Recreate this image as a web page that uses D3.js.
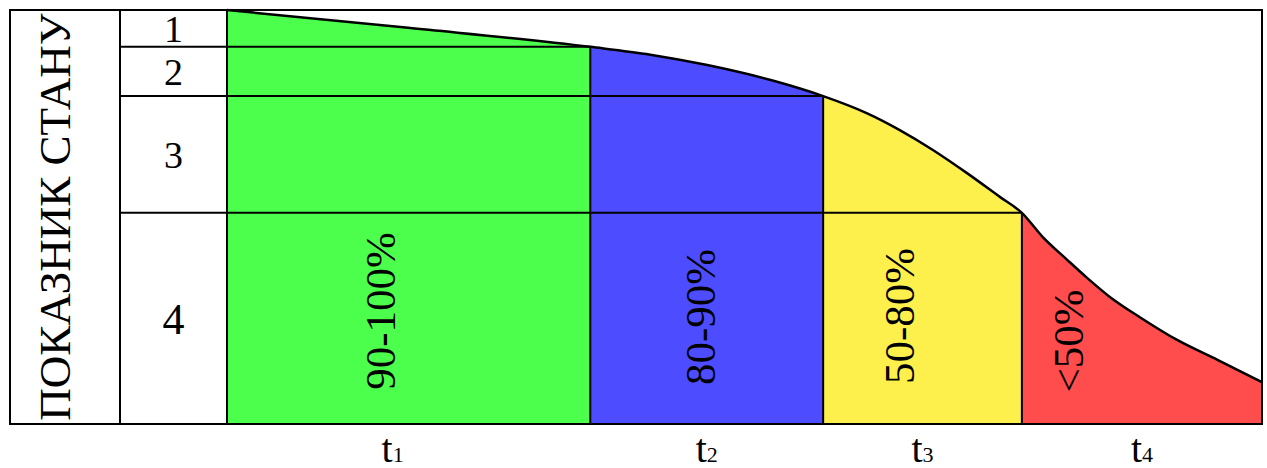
<!DOCTYPE html>
<html>
<head>
<meta charset="utf-8">
<script src="https://cdn.jsdelivr.net/npm/d3@7"></script>
<style>
  html, body { margin: 0; padding: 0; background: #fff; }
  svg text { font-family: "Liberation Serif", "Times New Roman", serif; fill: #000; }
</style>
</head>
<body>
<div id="chart"></div>
<script>
// time axis in % of lifetime, state in % of initial
var stageNames = ['1', '2', '3', '4']
var stageEnds = [0, 35.1, 57.6, 76.8, 100]
var rowBounds = [100, 91.1, 79.2, 51.0, 0]
var pctLabels = ['90-100%', '80-90%', '50-80%', '<50%']
var segColors = ['#4dff4d', '#4d4dff', '#fdf04d', '#ff4d4d']
var curveT = [0, 17.5, 35.1, 40.9, 46.4, 52.8, 57.6, 61.8, 65.0, 68.2, 71.5, 74.7, 76.8, 78.8, 81.2, 83.1, 85.3, 88.2, 91.8, 95.7, 100]
var curveV = [100, 95.7, 91.1, 89.2, 86.7, 82.9, 79.2, 75.1, 71.0, 66.2, 60.6, 54.8, 51.0, 45.2, 39.6, 35.3, 30.7, 25.8, 20.3, 15.5, 10.1]

var w = 1267, h = 468
var frameL = 10, colA = 120, colB = 227, frameR = 1262, frameT = 10, frameB = 424

var svg = d3.select('#chart').append('svg')
  .attr('width', w)
  .attr('height', h)

var x = d3.scaleLinear().domain([0, 100]).range([colB, frameR])
var y = d3.scaleLinear().domain([0, 100]).range([frameB, frameT])

var pts = curveT.map((t, i) => ({ t: t, v: curveV[i] }))

var area = d3.area()
  .x(d => x(d.t))
  .y0(y(0))
  .y1(d => y(d.v))
  .curve(d3.curveMonotoneX)

var line = d3.line()
  .x(d => x(d.t))
  .y(d => y(d.v))
  .curve(d3.curveMonotoneX)

var defs = svg.append('defs')

//coloured segments under the curve
segColors.forEach((c, i) => {
  defs.append('clipPath')
    .attr('id', 'seg-' + i)
    .append('rect')
    .attr('x', x(stageEnds[i]))
    .attr('y', frameT)
    .attr('width', x(stageEnds[i + 1]) - x(stageEnds[i]))
    .attr('height', frameB - frameT)

  svg.append('path')
    .datum(pts)
    .attr('d', area)
    .attr('fill', c)
    .attr('clip-path', 'url(#seg-' + i + ')')
})

svg.append('path')
  .datum(pts)
  .attr('d', line)
  .attr('fill', 'none')
  .attr('stroke', '#000')
  .attr('stroke-width', 2.5)

// vertical dividers between stages + row lines
stageEnds.slice(1, -1).forEach((t, i) => {
  svg.append('line')
    .attr('x1', x(t)).attr('x2', x(t))
    .attr('y1', y(rowBounds[i + 1])).attr('y2', frameB)
    .attr('stroke', '#000')
    .attr('stroke-width', 2)

  svg.append('line')
    .attr('x1', colA).attr('x2', x(t))
    .attr('y1', y(rowBounds[i + 1])).attr('y2', y(rowBounds[i + 1]))
    .attr('stroke', '#000')
    .attr('stroke-width', 2)
})

// frame
svg.append('rect')
  .attr('x', frameL).attr('y', frameT)
  .attr('width', frameR - frameL).attr('height', frameB - frameT)
  .attr('fill', 'none')
  .attr('stroke', '#000')
  .attr('stroke-width', 2)

;[colA, colB].forEach(cx => {
  svg.append('line')
    .attr('x1', cx).attr('x2', cx)
    .attr('y1', frameT).attr('y2', frameB)
    .attr('stroke', '#000')
    .attr('stroke-width', 2)
})

// vertical title
svg.append('text')
  .attr('transform', `translate(54,${(frameT + frameB) / 2}) rotate(-90)`)
  .attr('text-anchor', 'middle')
  .attr('dy', '0.35em')
  .style('font-size', '45px')
  .text('ПОКАЗНИК СТАНУ')

// row numbers
stageNames.forEach((s, i) => {
  var cy = (y(rowBounds[i]) + y(rowBounds[i + 1])) / 2
  svg.append('text')
    .attr('x', (colA + colB) / 2)
    .attr('y', cy)
    .attr('dy', '0.35em')
    .attr('text-anchor', 'middle')
    .style('font-size', i == 3 ? '44px' : '38px')
    .text(s)
})

// percent labels, rotated
var labelFrac = [0.42, 0.47, 0.38, 0.19]
var labelY = [311, 317, 316, 341]
pctLabels.forEach((p, i) => {
  var lx = x(stageEnds[i]) + labelFrac[i] * (x(stageEnds[i + 1]) - x(stageEnds[i]))
  svg.append('text')
    .attr('transform', `translate(${lx},${labelY[i]}) rotate(-90)`)
    .attr('text-anchor', 'middle')
    .attr('dy', '0.35em')
    .style('font-size', '43px')
    .text(p)
})

// t labels under the stages
stageNames.forEach((s, i) => {
  var cx = (x(stageEnds[i]) + x(stageEnds[i + 1])) / 2
  if (i == 0) cx -= 16
  var t = svg.append('text')
    .attr('x', cx)
    .attr('y', 462)
    .attr('text-anchor', 'middle')
    .style('font-size', '40px')
  t.append('tspan').text('t')
  t.append('tspan').style('font-size', '22px').text(s)
})
</script>
</body>
</html>
